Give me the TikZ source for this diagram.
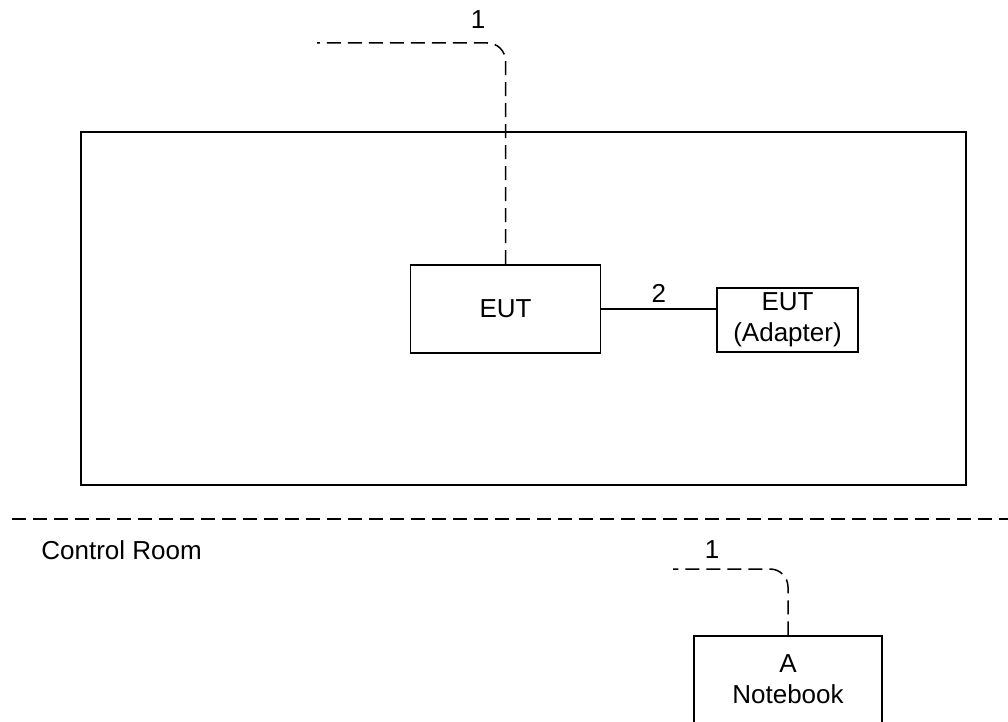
\documentclass[tikz,border=0pt]{standalone}
\usepackage{fontspec}
\setmainfont{Liberation Sans}
\usetikzlibrary{positioning}
\tikzstyle{squared} = [rectangle, draw=black, line width=0.75pt, inner sep=0pt, text centered, align=center]
\tikzstyle{cable} = [line width=0.75pt, dash pattern=on 7pt off 3.5pt]
\tikzstyle{connect} = [line width=0.75pt]
\tikzstyle{lbl} = [inner sep=0pt]

\begin{document}
\begin{tikzpicture}[x=0.5pt,y=-0.5pt,font=\fontsize{13pt}{15.5pt}\selectfont]
			\useasboundingbox (0,0) rectangle (1008,722);
			\node (room) [squared, minimum width=442.5pt, minimum height=176.5pt] at (523.5,308.5) {};
			\node (eut) [squared, minimum width=95pt, minimum height=44pt] at (505.5,309) {EUT};
			\node (adapter) [squared, minimum width=70.5pt, minimum height=32pt] at (787.5,320) {EUT\\(Adapter)};
			\node (nb) [squared, minimum width=94pt, minimum height=55pt] at (788,691) {};
			\node (nbtext) [lbl, align=center] at (788,679) {A\\Notebook};
			\node (ctrl) [lbl, anchor=west] at (41,550) {Control Room};
			\coordinate (c1end) at (317,43);
			\coordinate (c2end) at (673,569);
			\coordinate (sepL) at (12,519);
			\coordinate (sepR) at (1008,519);
			
			\draw [cable, rounded corners=9pt] (eut.north) |- (c1end);
			\node (l1a) [lbl] at (478,20) {1};
			\draw [connect] (eut.east) -- (eut.east -| adapter.west) node (l2) [midway, above=3pt, lbl] {2};
			\draw [cable] (sepL) -- (sepR);
			\draw [cable, rounded corners=9pt] (nb.north) |- (c2end);
			\node (l1b) [lbl] at (712,550) {1};
			\end{tikzpicture}
\end{document}
